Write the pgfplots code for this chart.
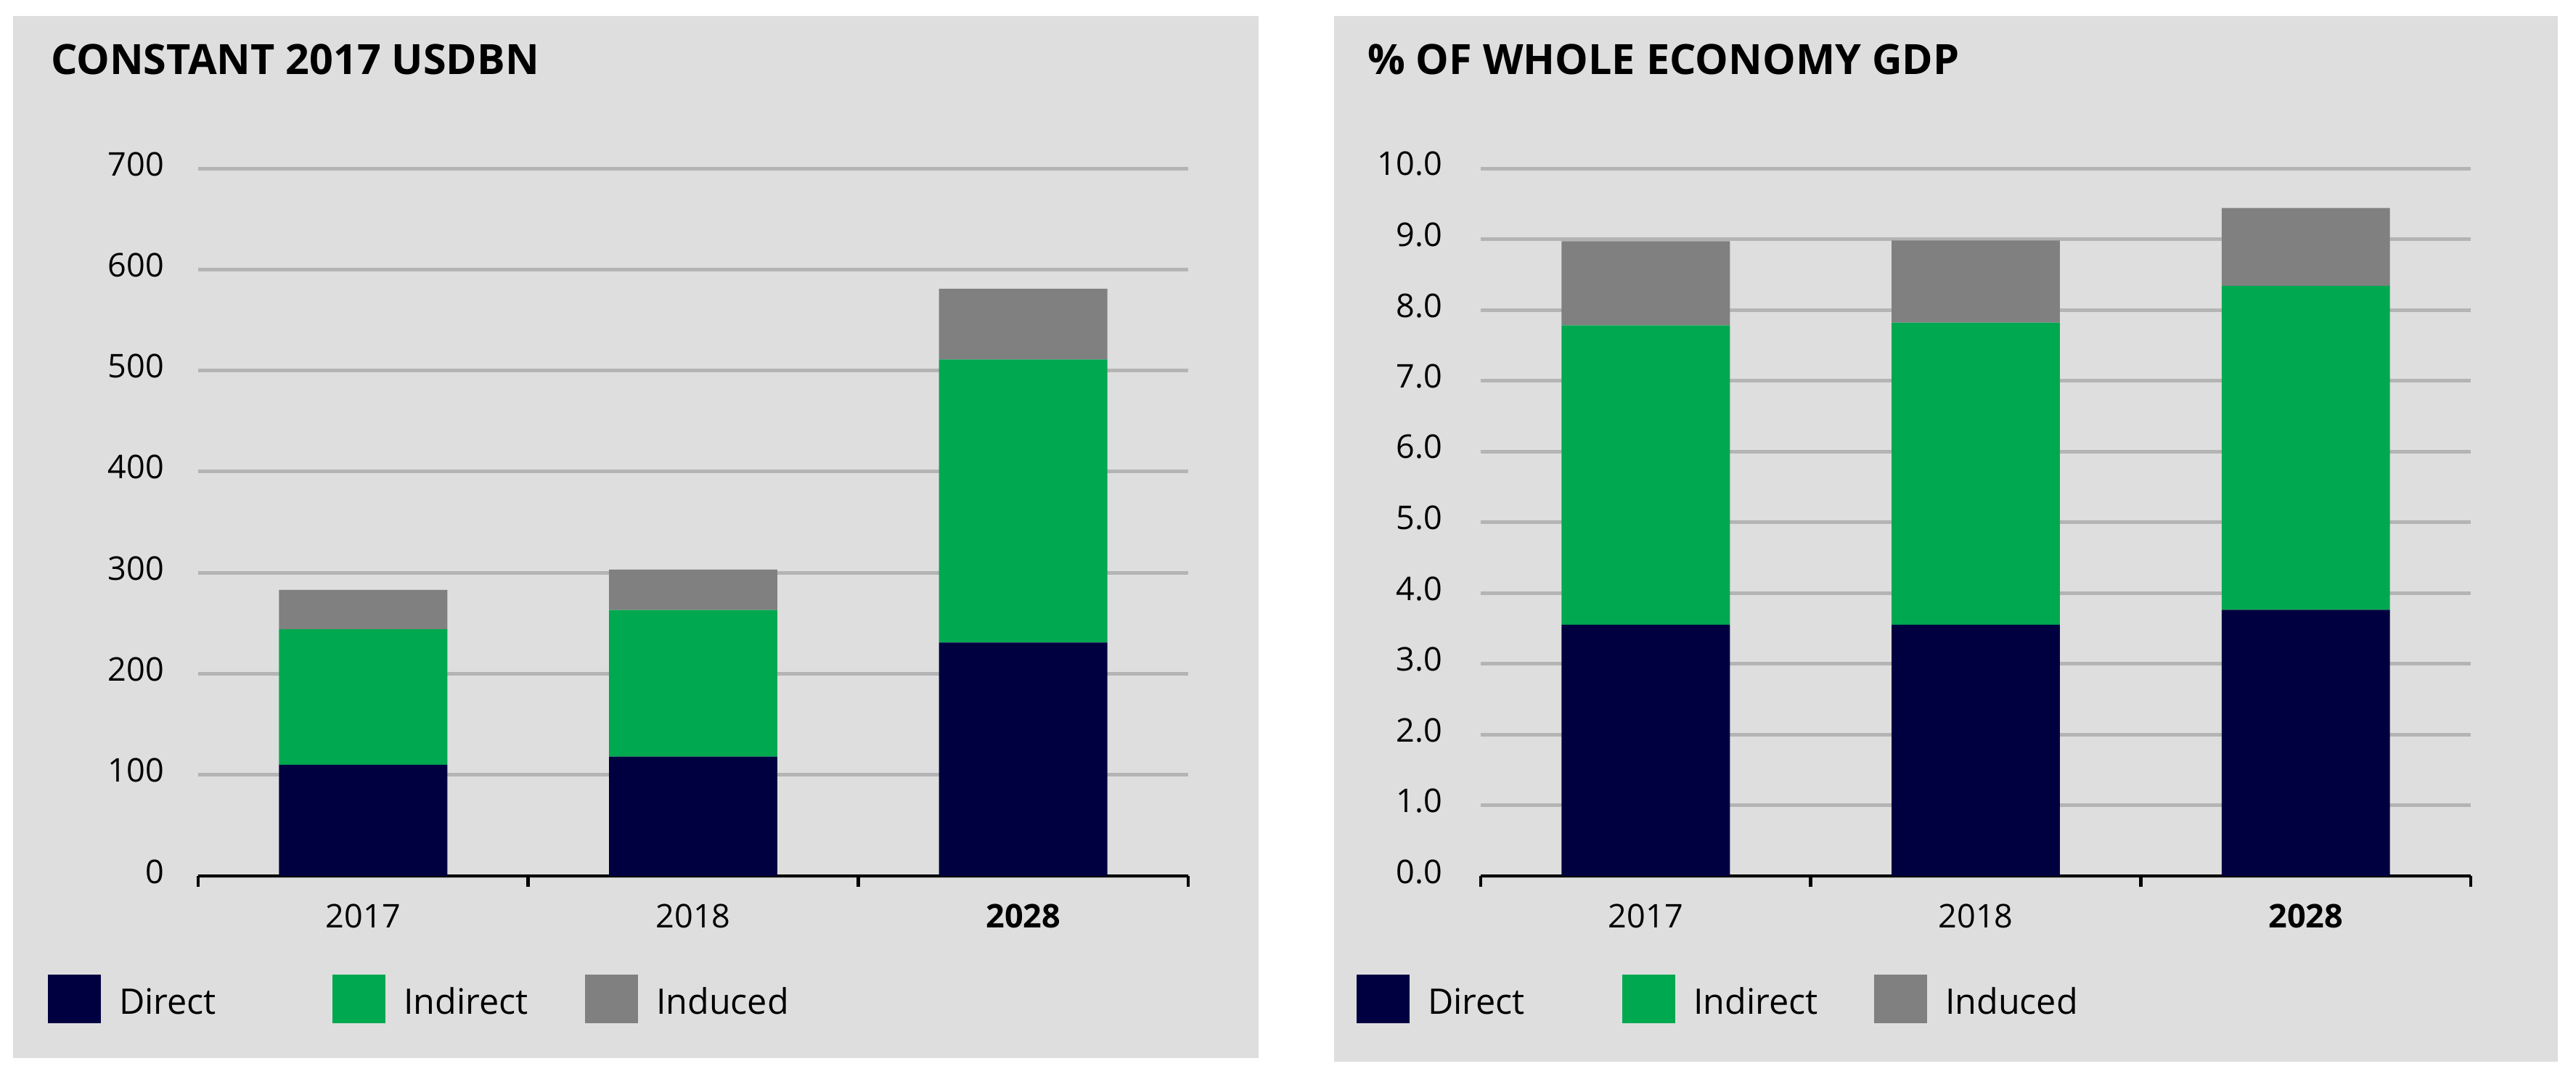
\documentclass[border=0pt]{standalone}
\usepackage{fontspec}
\setmainfont{Open Sans}
\usepackage{pgfplots}
\pgfplotsset{compat=1.18}
\definecolor{cdirect}{HTML}{000040}
\definecolor{cindirect}{HTML}{00A84F}
\definecolor{cinduced}{HTML}{808080}
\definecolor{panel}{HTML}{DEDEDE}
\definecolor{gridc}{HTML}{B4B4B4}
\pgfplotsset{
  layers/mylayers/.define layer set={axis background,axis grid,main,axis ticks,axis lines,axis tick labels,axis descriptions,axis foreground}{},
  mystyle/.style={
    set layers=mylayers,
    scale only axis, width=272.8pt, height=195pt,
    ybar stacked, bar width=0.51,
    xmin=-0.5, xmax=2.5, ymin=0,
    axis x line*=bottom, axis y line*=left,
    y axis line style={draw=none},
    x axis line style={black, line width=0.9pt},
    ymajorgrids, grid style={gridc, line width=1pt},
    ytick style={draw=none},
    xtick={0,1,2}, xticklabels={2017,2018,\textbf{2028}},
    xtick style={draw=none},
    extra x ticks={-0.5,0.5,1.5,2.5}, extra x tick labels={},
    extra x tick style={xtick style={draw=black, line width=0.9pt}, major tick length=3pt, xtick align=outside, grid=none},
    /pgf/number format/assume math mode=true,
    ticklabel style={font=\fontsize{9}{10}\selectfont, inner sep=0pt},
    xticklabel style={anchor=center, yshift=-11pt},
    yticklabel style={anchor=east, yshift=1.2pt},
    legend columns=3,
    legend image code/.code={\fill[##1] (0pt,-2.6pt) rectangle (14.6pt,10.8pt);},
    legend style={draw=none, fill=none, inner sep=0pt, outer sep=0pt,
      font=\fontsize{9.7}{11}\selectfont,
      nodes={inner sep=0pt, anchor=base west},
      /tikz/column sep=0pt,
      at={(axis description cs:0,0)}, anchor=north west},
  }
}
\begin{document}
\begin{tikzpicture}
\fill[white] (0pt,0pt) rectangle (709.8pt,298pt);
\fill[panel] (3.6pt,6.4pt) rectangle (346.8pt,293.6pt);
\fill[panel] (367.6pt,5.4pt) rectangle (704.8pt,293.6pt);
\node[anchor=base west, inner sep=0pt, font=\fontsize{11.5}{13}\selectfont\bfseries] at (13.8pt,277.6pt) {CONSTANT 2017 USDBN};
\node[anchor=base west, inner sep=0pt, font=\fontsize{11.5}{13}\selectfont\bfseries] at (376.6pt,277.6pt) {\% OF WHOLE ECONOMY GDP};
\begin{axis}[mystyle, at={(54.6pt,56.6pt)}, anchor=south west,
  ymax=700, ytick={0,100,...,700},
  yticklabel style={xshift=-9.2pt},
  legend style={xshift=-41.4pt, yshift=-27.2pt}]
\addplot[fill=cdirect, draw=none] coordinates {(0,110) (1,118) (2,231)};
\addlegendentry{\hspace{5pt}\makebox[58.8pt][l]{Direct}}
\addplot[fill=cindirect, draw=none] coordinates {(0,134) (1,145) (2,280)};
\addlegendentry{\hspace{5pt}\makebox[50pt][l]{Indirect}}
\addplot[fill=cinduced, draw=none] coordinates {(0,39) (1,40) (2,70)};
\addlegendentry{\hspace{5pt}\makebox[40pt][l]{Induced}}
\end{axis}
\begin{axis}[mystyle, at={(408pt,56.6pt)}, anchor=south west,
  ymax=10, ytick={0,1,...,10},
  yticklabel style={xshift=-10.4pt, /pgf/number format/.cd, fixed, fixed zerofill, precision=1},
  legend style={xshift=-34.2pt, yshift=-27.2pt}]
\addplot[fill=cdirect, draw=none] coordinates {(0,3.55) (1,3.55) (2,3.76)};
\addlegendentry{\hspace{5pt}\makebox[53.6pt][l]{Direct}}
\addplot[fill=cindirect, draw=none] coordinates {(0,4.23) (1,4.27) (2,4.58)};
\addlegendentry{\hspace{5pt}\makebox[49.8pt][l]{Indirect}}
\addplot[fill=cinduced, draw=none] coordinates {(0,1.19) (1,1.16) (2,1.10)};
\addlegendentry{\hspace{5pt}\makebox[40pt][l]{Induced}}
\end{axis}
\end{tikzpicture}
\end{document}
